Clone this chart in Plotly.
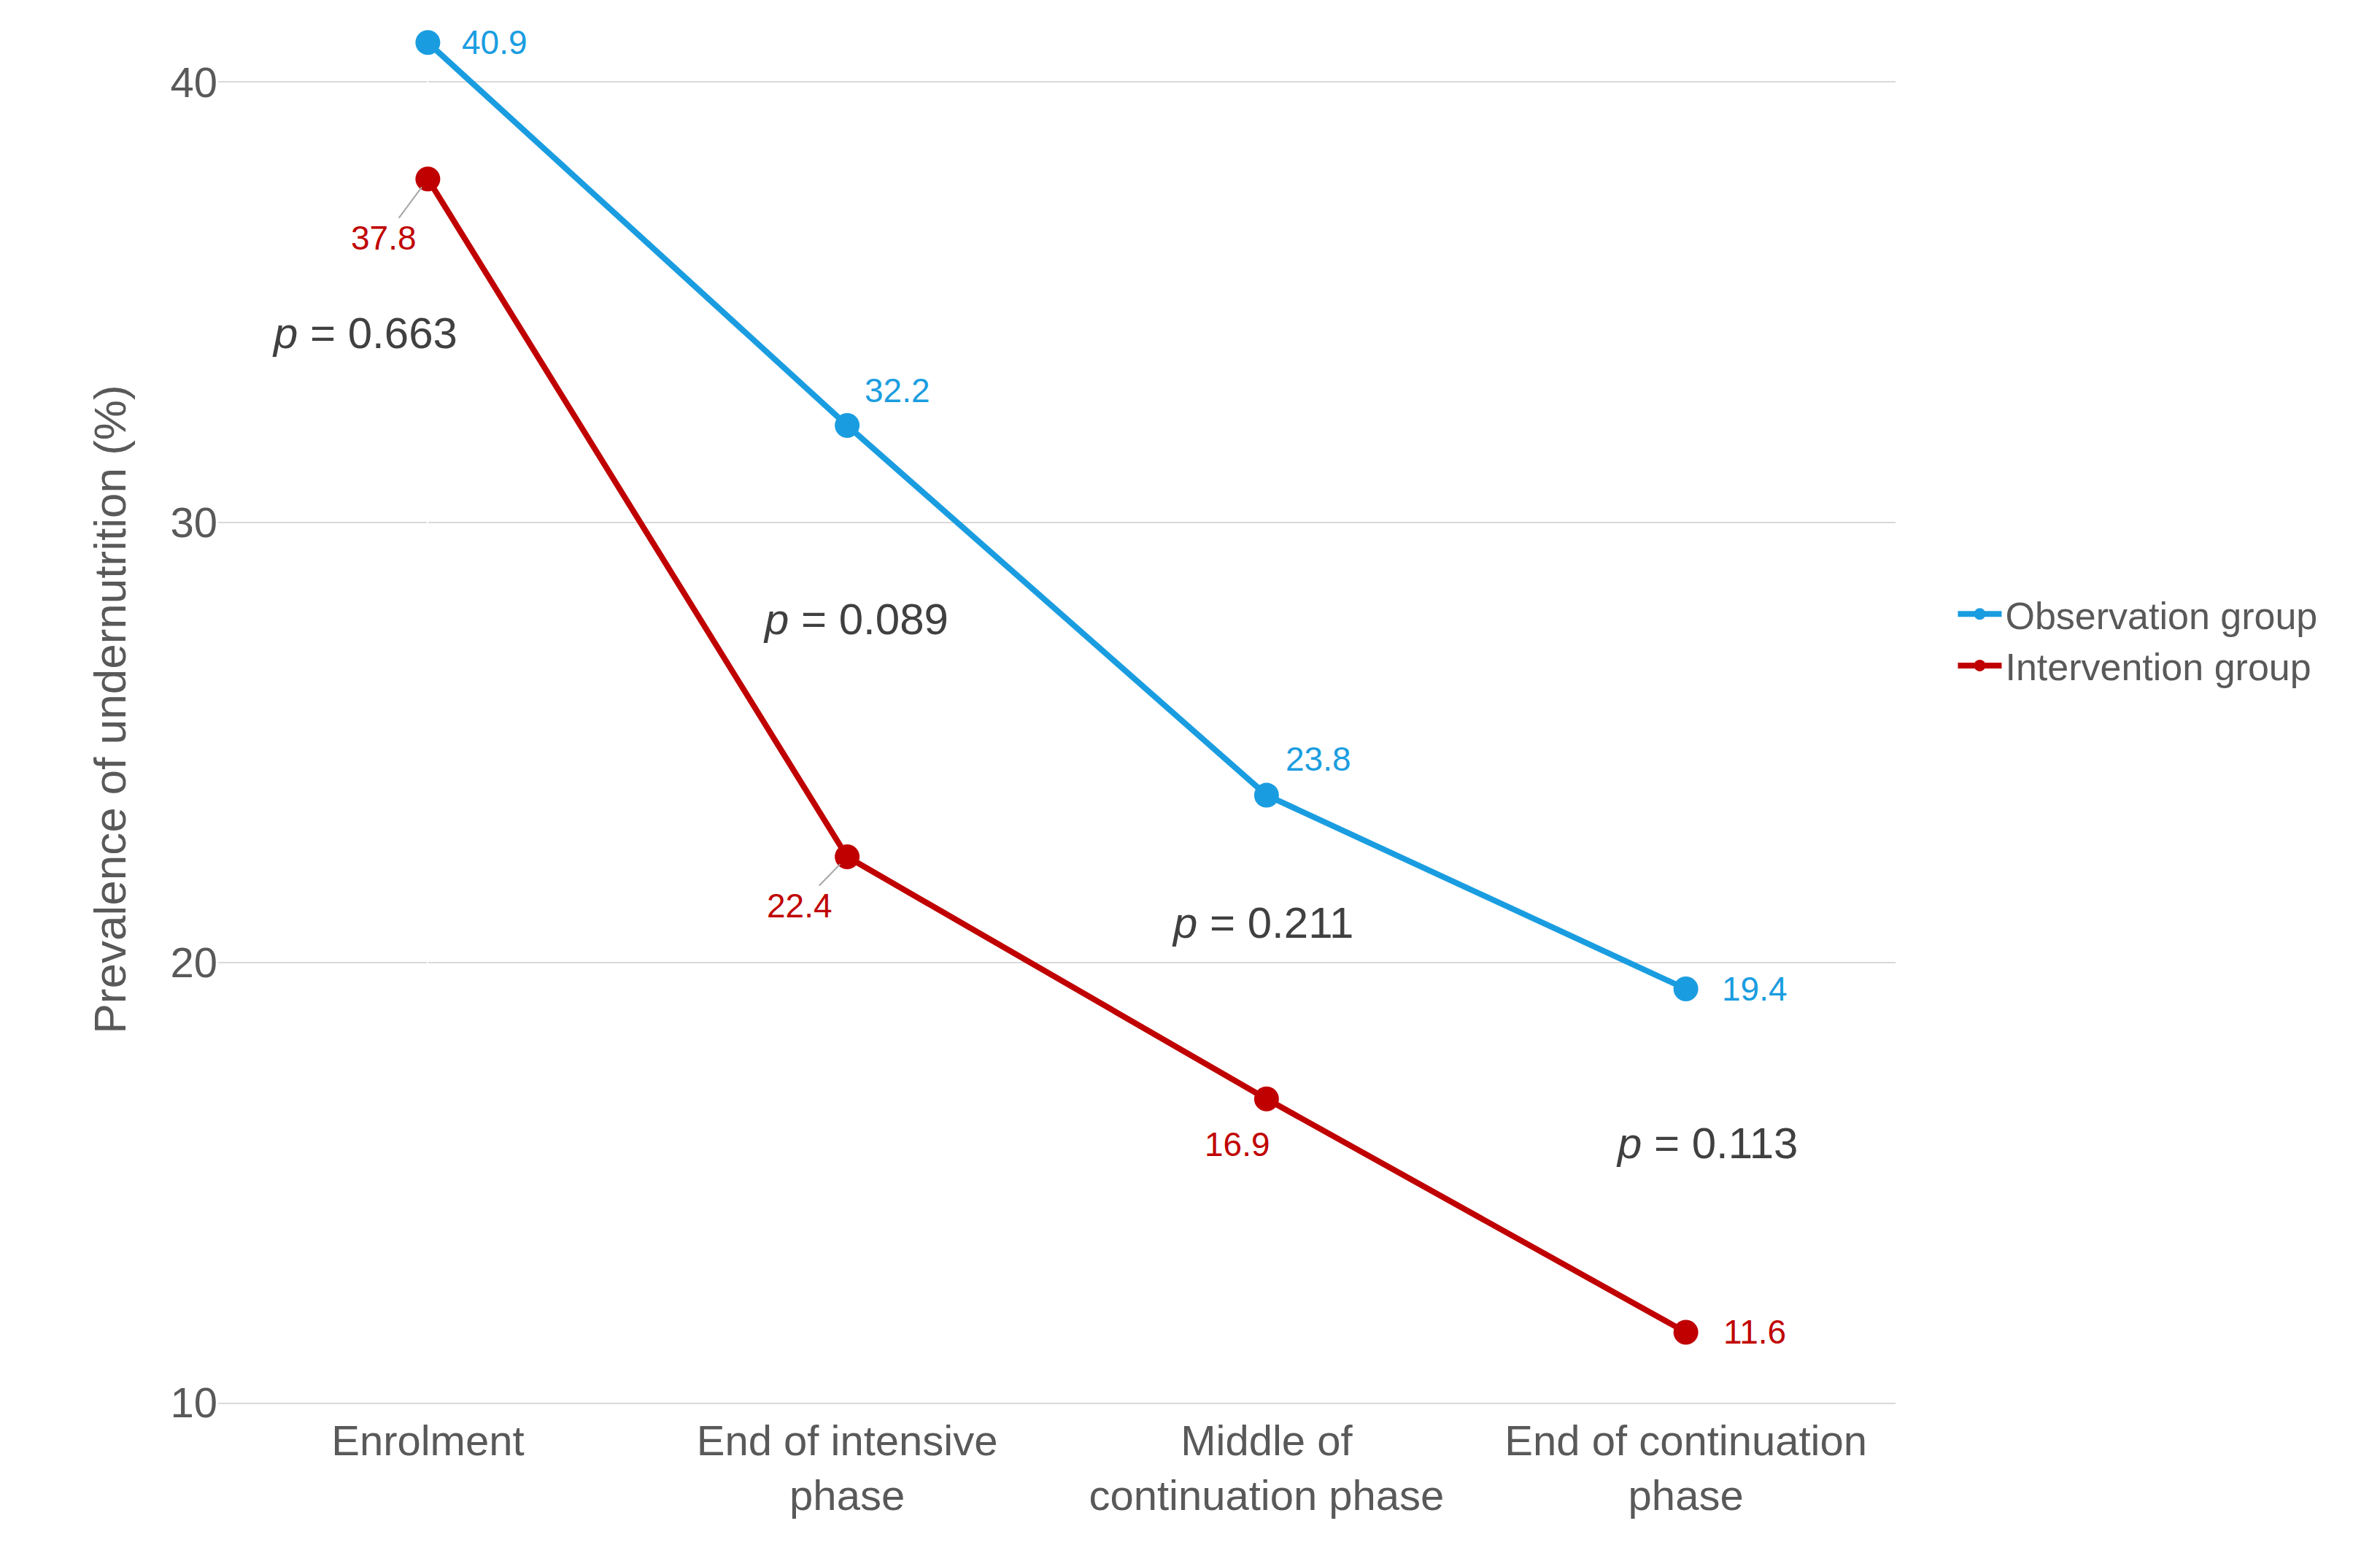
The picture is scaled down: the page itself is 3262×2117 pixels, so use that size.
import plotly.graph_objects as go

categories = ["Enrolment", "End of intensive<br>phase", "Middle of<br>continuation phase", "End of continuation<br>phase"]
observation = [40.9, 32.2, 23.8, 19.4]
intervention = [37.8, 22.4, 16.9, 11.6]
p_values = ["0.663", "0.089", "0.211", "0.113"]
p_x = [-0.15, 1.02, 1.99, 3.05]
p_y = [34.3, 27.8, 20.9, 15.9]

blue = "#1a9de0"
red = "#c00000"
xs = list(range(len(categories)))

fig = go.Figure()
fig.add_trace(go.Scatter(x=xs, y=observation, mode="lines+markers", name="Observation group",
                         line=dict(color=blue, width=8), marker=dict(size=34, color=blue)))
fig.add_trace(go.Scatter(x=xs, y=intervention, mode="lines+markers", name="Intervention group",
                         line=dict(color=red, width=8), marker=dict(size=34, color=red)))

obs_off = [(92, 0), (69, -48), (71, -50), (94, 0)]
int_off = [(-60, 81, True), (-65, 67, True), (-40, 62, False), (94, 0, False)]
for i, v in enumerate(observation):
    fig.add_annotation(x=xs[i], y=v, text=f"{v}", showarrow=True, arrowwidth=0.1, arrowcolor="rgba(0,0,0,0)",
                       ax=obs_off[i][0], ay=obs_off[i][1], font=dict(size=46, color=blue))
for i, v in enumerate(intervention):
    ax, ay, arrow = int_off[i]
    fig.add_annotation(x=xs[i], y=v, text=f"{v}", showarrow=True, arrowhead=0, arrowwidth=2,
                       arrowcolor="#a6a6a6" if arrow else "rgba(0,0,0,0)", standoff=14,
                       ax=ax, ay=ay, font=dict(size=46, color=red))
for i, p in enumerate(p_values):
    fig.add_annotation(x=p_x[i], y=p_y[i], text=f"<i>p</i> = {p}", showarrow=False,
                       font=dict(size=60, color="#404040"))

fig.update_layout(
    width=3262, height=2117, plot_bgcolor="white", paper_bgcolor="white",
    margin=dict(l=291, r=672, t=14, b=203),
    font=dict(family="Liberation Sans, Arial, sans-serif", color="#595959"),
    xaxis=dict(tickmode="array", tickvals=xs, ticktext=categories, range=[-0.5, 3.5],
               tickfont=dict(size=58, color="#595959"), showgrid=False, showline=True,
               linecolor="#d9d9d9", linewidth=2, ticks=""),
    yaxis=dict(range=[10, 41.5], tickvals=[10, 20, 30, 40], tickfont=dict(size=58, color="#595959"),
               ticksuffix="     ",
               gridcolor="#d9d9d9", gridwidth=2, zeroline=False, showline=False,
               title=dict(text="Prevalence of undernutrition (%)", standoff=40,
                          font=dict(size=62, color="#595959"))),
    legend=dict(x=1.035, y=0.59, xanchor="left", yanchor="top", font=dict(size=52, color="#595959"),
                itemwidth=60, tracegroupgap=10),
    showlegend=True,
)
fig.write_html("out.html")
